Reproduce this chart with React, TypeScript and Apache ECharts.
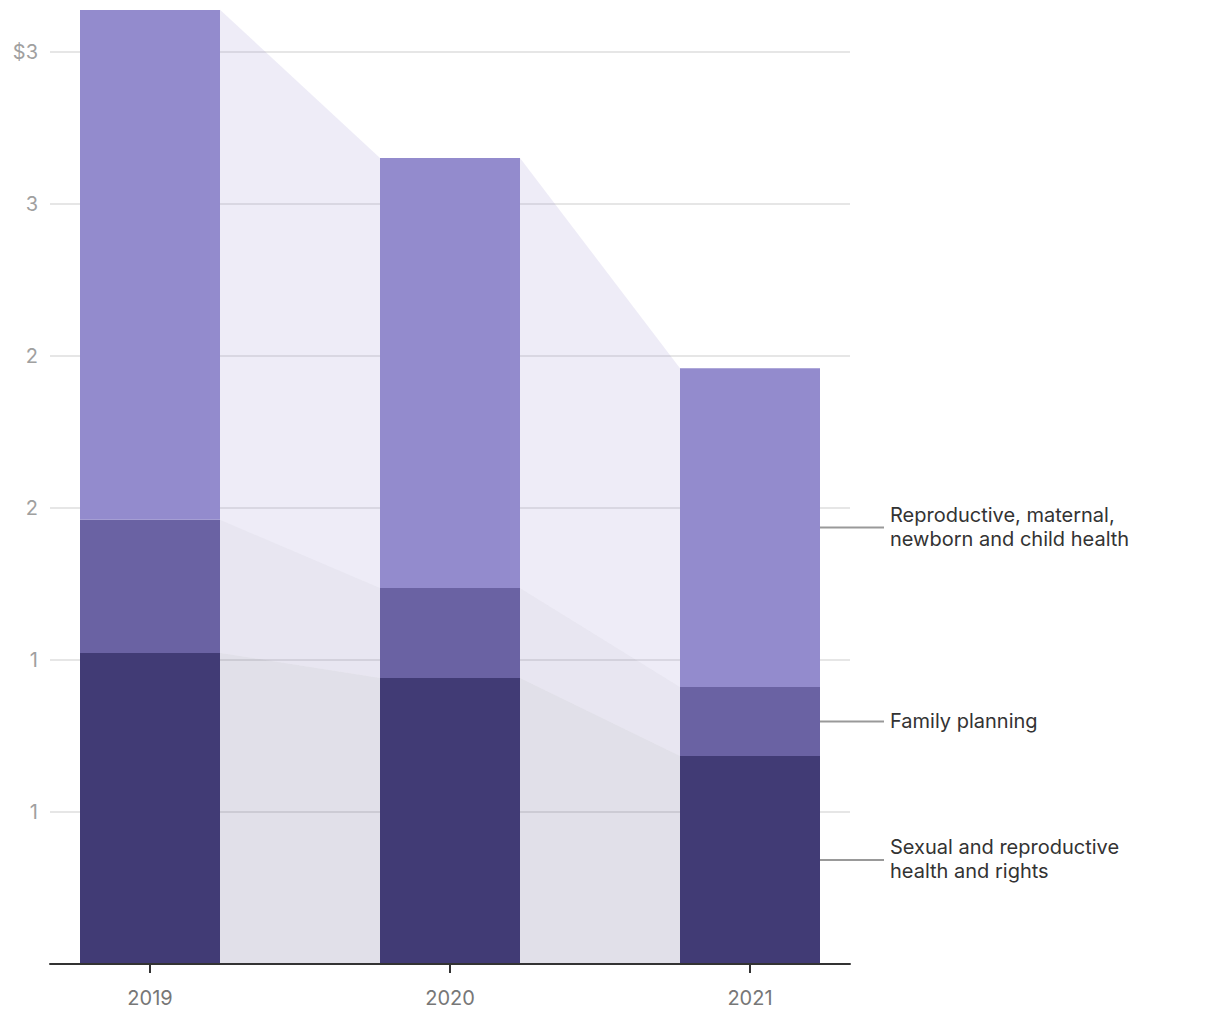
import React, { useEffect, useRef } from "react";
import * as echarts from "echarts";

const years = ["2019", "2020", "2021"];
const srhr = [1.023, 0.941, 0.684];
const familyPlanning = [0.438, 0.296, 0.227];
const rmnch = [1.678, 1.414, 1.049];
const seriesNames = [
  "Sexual and reproductive\nhealth and rights",
  "Family planning",
  "Reproductive, maternal,\nnewborn and child health",
];
const yTickLabels = ["", "1", "1", "2", "2", "3", "$3"];
const Y_INTERVAL = 0.5;
const Y_MAX = 3.138;

const colors = ["#413b75", "#6a62a3", "#938bcd"];
const shadeColors = [
  "rgba(65,59,117,0.155)",
  "rgba(106,98,163,0.155)",
  "rgba(147,139,205,0.16)",
];
const BAR_W = 140;
const FONT = "Inter, 'Open Sans', sans-serif";

export default function App() {
  const ref = useRef<HTMLDivElement>(null);
  useEffect(() => {
    if (!ref.current) return;
    const chart = echarts.init(ref.current, null, { renderer: "svg" });
    const layers = [srhr, familyPlanning, rmnch];
    const bases: number[][] = [];
    const tops: number[][] = [];
    layers.forEach((arr, li) => {
      bases.push(arr.map((_, i) => (li === 0 ? 0 : tops[li - 1][i])));
      tops.push(arr.map((v, i) => bases[li][i] + v));
    });

    const shadeSeries = layers.map((arr, li) => {
      const data: number[][] = [];
      for (let i = 0; i < arr.length - 1; i++) {
        data.push([i, bases[li][i], tops[li][i], bases[li][i + 1], tops[li][i + 1]]);
      }
      return {
        type: "custom",
        xAxisIndex: 1,
        yAxisIndex: 1,
        z: 1,
        silent: true,
        data,
        encode: { x: 0, y: [1, 2, 3, 4] },
        renderItem: (params: any, api: any) => {
          const i = api.value(0);
          const half = BAR_W / 2;
          const a0 = api.coord([i, api.value(1)]);
          const a1 = api.coord([i, api.value(2)]);
          const b0 = api.coord([i + 1, api.value(3)]);
          const b1 = api.coord([i + 1, api.value(4)]);
          return {
            type: "polygon",
            shape: {
              points: [
                [a0[0] + half, a0[1]],
                [a1[0] + half, a1[1]],
                [b1[0] - half, b1[1]],
                [b0[0] - half, b0[1]],
              ],
            },
            style: { fill: shadeColors[li] },
          };
        },
      };
    });

    const last = years.length - 1;
    const annotData = layers.map((_, li) => [last, bases[li][last], tops[li][last], li]);

    const option: any = {
      animation: false,
      grid: [
        { left: 50, width: 800, top: 10, bottom: 56 },
        { left: 0, width: 900, top: 10, bottom: 56 },
      ],
      xAxis: [
        {
          gridIndex: 0,
          type: "value",
          min: 0,
          max: 1,
          z: 5,
          axisLine: { show: true, lineStyle: { color: "#333", width: 2 } },
          axisTick: { show: false },
          axisLabel: { show: false },
          splitLine: { show: false },
        },
        {
          gridIndex: 1,
          type: "category",
          data: years,
          boundaryGap: true,
          axisLine: { show: false },
          axisTick: {
            show: true,
            alignWithLabel: true,
            length: 9,
            lineStyle: { color: "#333", width: 2 },
          },
          axisLabel: {
            color: "#777",
            fontSize: 20,
            fontFamily: FONT,
            margin: 24,
          },
        },
      ],
      yAxis: [
        {
          gridIndex: 0,
          type: "value",
          min: 0,
          max: Y_MAX,
          interval: Y_INTERVAL,
          axisLine: { show: false },
          axisTick: { show: false },
          axisLabel: {
            color: "#a0a0a0",
            fontSize: 20,
            fontFamily: FONT,
            margin: 12,
            showMaxLabel: false,
            formatter: (v: number) => {
              const idx = Math.round(v / Y_INTERVAL);
              if (Math.abs(idx * Y_INTERVAL - v) > 1e-6) return "";
              return yTickLabels[idx] ?? "";
            },
          },
          splitLine: {
            show: true,
            showMinLine: false,
            showMaxLine: false,
            lineStyle: { color: "#e6e6e6", width: 2 },
          },
        },
        {
          gridIndex: 1,
          type: "value",
          min: 0,
          max: Y_MAX,
          show: false,
          splitLine: { show: false },
        },
      ],
      series: [
        ...shadeSeries,
        ...layers.map((arr, li) => ({
          type: "bar",
          name: seriesNames[li],
          xAxisIndex: 1,
          yAxisIndex: 1,
          stack: "total",
          barWidth: BAR_W,
          z: 2,
          data: arr,
          itemStyle: { color: colors[li] },
          silent: true,
        })),
        {
          type: "custom",
          xAxisIndex: 1,
          yAxisIndex: 1,
          z: 3,
          silent: true,
          data: annotData,
          encode: { x: 0, y: [1, 2] },
          renderItem: (params: any, api: any) => {
            const i = api.value(0);
            const li = api.value(3);
            const mid = (api.value(1) + api.value(2)) / 2;
            const p = api.coord([i, mid]);
            const x0 = p[0] + BAR_W / 2;
            return {
              type: "group",
              children: [
                {
                  type: "line",
                  shape: { x1: x0, y1: p[1], x2: x0 + 64, y2: p[1] },
                  style: { stroke: "#999", lineWidth: 2 },
                },
                {
                  type: "text",
                  x: x0 + 70,
                  y: p[1] - 1,
                  style: {
                    text: seriesNames[li],
                    fill: "#333",
                    fontSize: 20,
                    fontFamily: FONT,
                    lineHeight: 24,
                    verticalAlign: "middle",
                    align: "left",
                  },
                },
              ],
            };
          },
        },
      ],
    };
    chart.setOption(option);
    return () => chart.dispose();
  }, []);
  return (
    <div
      ref={ref}
      style={{ position: "absolute", left: 0, top: 0, width: 1220, height: 1020 }}
    />
  );
}
